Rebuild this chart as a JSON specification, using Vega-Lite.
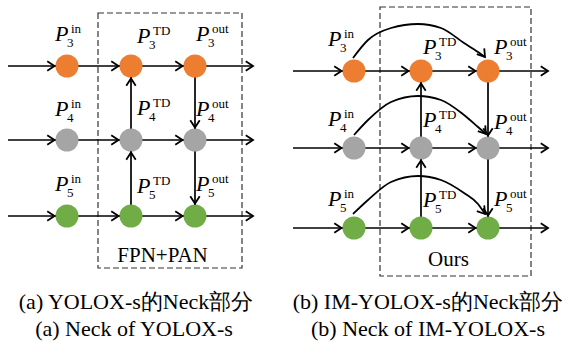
{
  "$schema": "https://vega.github.io/schema/vega-lite/v6.json",
  "width": 562,
  "height": 351,
  "padding": 0,
  "autosize": {"type": "none"},
  "background": "white",
  "config": {"view": {"stroke": null}},
  "datasets": {
    "boxes": [
      {"x": 98, "x2": 242, "y": 13, "y2": 268},
      {"x": 380, "x2": 531, "y": 7, "y2": 276}
    ],
    "segs": [
      {"x": 8, "x2": 253, "y": 66, "y2": 66},
      {"x": 8, "x2": 253, "y": 140, "y2": 140},
      {"x": 8, "x2": 253, "y": 216, "y2": 216},
      {"x": 131, "x2": 131, "y": 216, "y2": 66},
      {"x": 195, "x2": 195, "y": 66, "y2": 216},
      {"x": 293, "x2": 548, "y": 71, "y2": 71},
      {"x": 293, "x2": 548, "y": 148, "y2": 148},
      {"x": 293, "x2": 548, "y": 228, "y2": 228},
      {"x": 421, "x2": 421, "y": 228, "y2": 71},
      {"x": 488, "x2": 488, "y": 71, "y2": 228}
    ],
    "curves": [
      {"g": 3, "x": 353, "y": 58}, {"g": 3, "x": 368, "y": 40}, {"g": 3, "x": 391, "y": 28}, {"g": 3, "x": 418, "y": 24}, {"g": 3, "x": 441, "y": 28}, {"g": 3, "x": 464, "y": 43}, {"g": 3, "x": 478, "y": 52}, {"g": 3, "x": 485, "y": 57},
      {"g": 4, "x": 354, "y": 135}, {"g": 4, "x": 368, "y": 120}, {"g": 4, "x": 391, "y": 102}, {"g": 4, "x": 418, "y": 96}, {"g": 4, "x": 441, "y": 100}, {"g": 4, "x": 464, "y": 115}, {"g": 4, "x": 478, "y": 127}, {"g": 4, "x": 486, "y": 134},
      {"g": 5, "x": 353, "y": 214}, {"g": 5, "x": 368, "y": 200}, {"g": 5, "x": 391, "y": 182}, {"g": 5, "x": 418, "y": 176}, {"g": 5, "x": 441, "y": 180}, {"g": 5, "x": 464, "y": 193}, {"g": 5, "x": 478, "y": 204}, {"g": 5, "x": 485, "y": 214}
    ],
    "heads": [
      {"x": 54.5, "y": 66, "a": 0}, {"x": 118.5, "y": 66, "a": 0}, {"x": 182.5, "y": 66, "a": 0}, {"x": 253, "y": 66, "a": 0},
      {"x": 54.5, "y": 140, "a": 0}, {"x": 118.5, "y": 140, "a": 0}, {"x": 182.5, "y": 140, "a": 0}, {"x": 253, "y": 140, "a": 0},
      {"x": 54.5, "y": 216, "a": 0}, {"x": 118.5, "y": 216, "a": 0}, {"x": 182.5, "y": 216, "a": 0}, {"x": 253, "y": 216, "a": 0},
      {"x": 131, "y": 152.5, "a": 270}, {"x": 131, "y": 78.5, "a": 270},
      {"x": 195, "y": 127.5, "a": 90}, {"x": 195, "y": 203.5, "a": 90},
      {"x": 341.5, "y": 71, "a": 0}, {"x": 408.5, "y": 71, "a": 0}, {"x": 475.5, "y": 71, "a": 0}, {"x": 548, "y": 71, "a": 0},
      {"x": 341.5, "y": 148, "a": 0}, {"x": 408.5, "y": 148, "a": 0}, {"x": 475.5, "y": 148, "a": 0}, {"x": 548, "y": 148, "a": 0},
      {"x": 341.5, "y": 228, "a": 0}, {"x": 408.5, "y": 228, "a": 0}, {"x": 475.5, "y": 228, "a": 0}, {"x": 548, "y": 228, "a": 0},
      {"x": 421, "y": 160.5, "a": 270}, {"x": 421, "y": 83.5, "a": 270},
      {"x": 488, "y": 135.5, "a": 90}, {"x": 488, "y": 215.5, "a": 90},
      {"x": 485, "y": 57, "a": 52}, {"x": 486, "y": 134, "a": 52}, {"x": 485, "y": 214, "a": 52}
    ],
    "nodes": [
      {"x": 67, "y": 66, "c": "3"}, {"x": 131, "y": 66, "c": "3"}, {"x": 195, "y": 66, "c": "3"},
      {"x": 67, "y": 140, "c": "4"}, {"x": 131, "y": 140, "c": "4"}, {"x": 195, "y": 140, "c": "4"},
      {"x": 67, "y": 216, "c": "5"}, {"x": 131, "y": 216, "c": "5"}, {"x": 195, "y": 216, "c": "5"},
      {"x": 354, "y": 71, "c": "3"}, {"x": 421, "y": 71, "c": "3"}, {"x": 488, "y": 71, "c": "3"},
      {"x": 354, "y": 148, "c": "4"}, {"x": 421, "y": 148, "c": "4"}, {"x": 488, "y": 148, "c": "4"},
      {"x": 354, "y": 228, "c": "5"}, {"x": 421, "y": 228, "c": "5"}, {"x": 488, "y": 228, "c": "5"}
    ],
    "labels": [
      {"x": 55, "y": 41, "sub": "3", "sup": "in"}, {"x": 137, "y": 43, "sub": "3", "sup": "TD"}, {"x": 196, "y": 41, "sub": "3", "sup": "out"},
      {"x": 55, "y": 116, "sub": "4", "sup": "in"}, {"x": 137, "y": 115, "sub": "4", "sup": "TD"}, {"x": 196, "y": 116, "sub": "4", "sup": "out"},
      {"x": 55, "y": 191, "sub": "5", "sup": "in"}, {"x": 137, "y": 193, "sub": "5", "sup": "TD"}, {"x": 196, "y": 191, "sub": "5", "sup": "out"},
      {"x": 328, "y": 46, "sub": "3", "sup": "in"}, {"x": 423, "y": 54, "sub": "3", "sup": "TD"}, {"x": 494, "y": 54, "sub": "3", "sup": "out"},
      {"x": 328, "y": 126, "sub": "4", "sup": "in"}, {"x": 423, "y": 127, "sub": "4", "sup": "TD"}, {"x": 494, "y": 129, "sub": "4", "sup": "out"},
      {"x": 328, "y": 206, "sub": "5", "sup": "in"}, {"x": 423, "y": 207, "sub": "5", "sup": "TD"}, {"x": 494, "y": 206, "sub": "5", "sup": "out"}
    ],
    "titles": [
      {"x": 162.5, "y": 262, "t": "FPN+PAN"},
      {"x": 448.5, "y": 266, "t": "Ours"}
    ],
    "captions": [
      {"x": 136, "y": 302, "t": "(a) YOLOX-s的Neck部分"},
      {"x": 134, "y": 329, "t": "(a) Neck of YOLOX-s"},
      {"x": 428, "y": 302, "t": "(b) IM-YOLOX-s的Neck部分"},
      {"x": 428, "y": 329, "t": "(b) Neck of IM-YOLOX-s"}
    ]
  },
  "encoding": {
    "x": {"field": "x", "type": "quantitative", "axis": null, "scale": {"domain": [0, 562], "nice": false, "zero": false}},
    "y": {"field": "y", "type": "quantitative", "axis": null, "scale": {"domain": [0, 351], "nice": false, "zero": false, "reverse": true}}
  },
  "layer": [
    {
      "data": {"name": "boxes"},
      "mark": {"type": "rect", "fill": "white", "fillOpacity": 0, "stroke": "#333333", "strokeWidth": 1.2, "strokeDash": [6, 3]},
      "encoding": {"x2": {"field": "x2"}, "y2": {"field": "y2"}}
    },
    {
      "data": {"name": "segs"},
      "mark": {"type": "rule", "color": "black", "strokeWidth": 1.7},
      "encoding": {"x2": {"field": "x2"}, "y2": {"field": "y2"}}
    },
    {
      "data": {"name": "curves"},
      "mark": {"type": "line", "interpolate": "monotone", "color": "black", "strokeWidth": 1.8},
      "encoding": {"detail": {"field": "g", "type": "nominal"}}
    },
    {
      "data": {"name": "nodes"},
      "mark": {"type": "point", "shape": "circle", "filled": true, "size": 530, "opacity": 1, "strokeWidth": 0},
      "encoding": {"color": {"field": "c", "type": "nominal", "legend": null, "scale": {"domain": ["3", "4", "5"], "range": ["#ED7D31", "#A5A5A5", "#70AD47"]}}}
    },
    {
      "data": {"name": "heads"},
      "mark": {"type": "point", "shape": "M-1,-0.65L0,0L-1,0.65", "filled": false, "stroke": "black", "strokeWidth": 1.8, "size": 210, "opacity": 1, "strokeJoin": "miter"},
      "encoding": {"angle": {"field": "a", "type": "quantitative", "scale": null}}
    },
    {
      "data": {"name": "labels"},
      "mark": {"type": "text", "text": "P", "font": "Liberation Serif", "fontStyle": "italic", "fontSize": 22, "align": "left", "baseline": "alphabetic", "color": "black"}
    },
    {
      "data": {"name": "labels"},
      "mark": {"type": "text", "font": "Liberation Serif", "fontSize": 13, "align": "left", "baseline": "alphabetic", "dx": 12, "dy": 6, "color": "black"},
      "encoding": {"text": {"field": "sub"}}
    },
    {
      "data": {"name": "labels"},
      "mark": {"type": "text", "font": "Liberation Serif", "fontSize": 13, "align": "left", "baseline": "alphabetic", "dx": 16, "dy": -8, "color": "black"},
      "encoding": {"text": {"field": "sup"}}
    },
    {
      "data": {"name": "titles"},
      "mark": {"type": "text", "font": "Liberation Serif", "fontSize": 21, "align": "center", "baseline": "alphabetic", "color": "black"},
      "encoding": {"text": {"field": "t"}}
    },
    {
      "data": {"name": "captions"},
      "mark": {"type": "text", "font": "Liberation Serif", "fontSize": 22, "align": "center", "baseline": "middle", "color": "black"},
      "encoding": {"text": {"field": "t"}}
    }
  ]
}
